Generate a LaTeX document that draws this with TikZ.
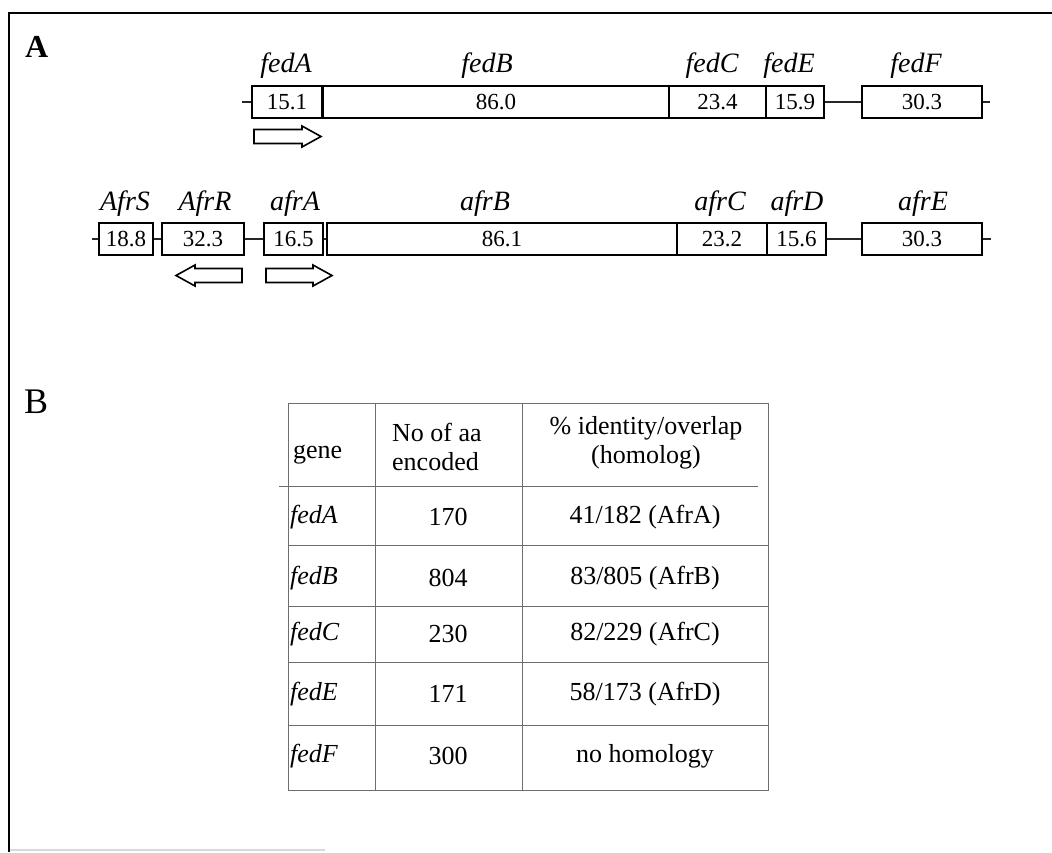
\documentclass[tikz,border=0pt]{standalone}
\usepackage{fontspec}
\setmainfont{Liberation Serif}
\usetikzlibrary{positioning}
\definecolor{ScanGrid}{HTML}{6E6E6E}
\definecolor{ScanEdge}{HTML}{D8D8D8}
\tikzset{
  genebox/.style={draw=black,line width=1.6pt,fill=white,inner sep=0pt,minimum height=32pt,font=\fontsize{23}{25}\selectfont},
  genename/.style={anchor=base,inner sep=0pt,font=\fontsize{28}{30}\selectfont\itshape},
  spacer/.style={line width=2.4pt,draw=black!85},
  orf/.style={draw=black,line width=1.6pt,fill=white,line join=miter},
  frame/.style={line width=2.6pt,draw=black},
  tabline/.style={draw=ScanGrid,line width=0.9pt},
  cell/.style={inner sep=0pt,font=\fontsize{26}{29}\selectfont},
  panel/.style={anchor=base west,inner sep=0pt}
}
% open reading frame arrows: start x, tip x, centre y
\newcommand{\orfarrow}[3]{%
  \draw[orf] (#1,#3-7) -- ({#2-19*sign(#2-#1)},#3-7) -- ({#2-19*sign(#2-#1)},#3-10.5)
    -- (#2,#3) -- ({#2-19*sign(#2-#1)},#3+10.5) -- ({#2-19*sign(#2-#1)},#3+7) -- (#1,#3+7) -- cycle;}

\begin{document}
\begin{tikzpicture}[x=1pt,y=-1pt]
  \useasboundingbox (0,0) rectangle (1052,852);

  % frame of the figure
  \draw[frame] (9,852) -- (9,13) -- (1052,13);
  \draw[ScanEdge,line width=1.2pt] (10,850) -- (325,850);

  \node[panel,font=\fontsize{32}{34}\selectfont\bfseries] (panelA) at (25,57) {A};
  \node[panel,font=\fontsize{36}{38}\selectfont] (panelB) at (24,413) {B};

  % fed cluster
  \foreach \nm/\xl/\xr/\xn/\val in {fedA/252/322/286/15.1, fedB/323/669/487/86.0,
      fedC/669/766/712/23.4, fedE/766/824/789/15.9, fedF/862/982/916/30.3} {
    \node[genebox,minimum width={(\xr-\xl)*1pt}] (\nm) at ({(\xl+\xr)/2},102) {\val};
    \node[genename] (\nm-name) at (\xn,72) {\nm};
  }
  \coordinate (fedL) at (242,102);
  \coordinate (fedR) at (990,102);
  \draw[spacer] (fedL) -- (fedA.west);
  \draw[spacer] (fedE.east) -- (fedF.west);
  \draw[spacer] (fedF.east) -- (fedR);
  \orfarrow{254}{321}{136.5}

  % afr cluster
  \foreach \nm/\xl/\xr/\xn/\val in {AfrS/99/153/125/18.8, AfrR/162/244/205/32.3,
      afrA/264/323/295/16.5, afrB/327/677/485/86.1, afrC/677/767/720/23.2,
      afrD/767/826/797/15.6, afrE/862/982/923/30.3} {
    \node[genebox,minimum width={(\xr-\xl)*1pt}] (\nm) at ({(\xl+\xr)/2},239) {\val};
    \node[genename] (\nm-name) at (\xn,210) {\nm};
  }
  \coordinate (afrL) at (92,239);
  \coordinate (afrR) at (991,239);
  \draw[spacer] (afrL) -- (AfrS.west);
  \draw[spacer] (AfrS.east) -- (AfrR.west);
  \draw[spacer] (AfrR.east) -- (afrA.west);
  \draw[spacer,line width=1.2pt] (afrA.east) -- (afrB.west);
  \draw[spacer] (afrD.east) -- (afrE.west);
  \draw[spacer] (afrE.east) -- (afrR);
  \orfarrow{242}{176}{275.5}
  \orfarrow{266}{332}{275.5}

  % table
  \draw[tabline] (288,403) rectangle (768,790);
  \draw[tabline] (279,486) -- (758,486);
  \foreach \y in {545,606,662,725} \draw[tabline] (288,\y) -- (768,\y);
  \foreach \x in {375,522} \draw[tabline] (\x,403) -- (\x,790);

  \node[cell,anchor=west] (hgene) at (293,455) {gene};
  \node[cell,anchor=west,align=left] (hsize) at (392,447) {No of aa\\encoded};
  \node[cell,align=center] (hident) at (646,443) {\% identity/overlap\\(homolog)};

  \foreach \nm/\aa/\hom/\y in {fedA/170/41\slash182 (AfrA)/517, fedB/804/83\slash805 (AfrB)/578,
      fedC/230/82\slash229 (AfrC)/634, fedE/171/58\slash173 (AfrD)/694, fedF/300/no homology/756} {
    \node[cell,anchor=west,font=\fontsize{26}{29}\selectfont\itshape] (\nm-row) at (290,\y) {\nm};
    \node[cell] (\nm-aa) at (448,\y) {\aa};
    \node[cell] (\nm-hom) at (645,\y) {\hom};
  }
\end{tikzpicture}
\end{document}
